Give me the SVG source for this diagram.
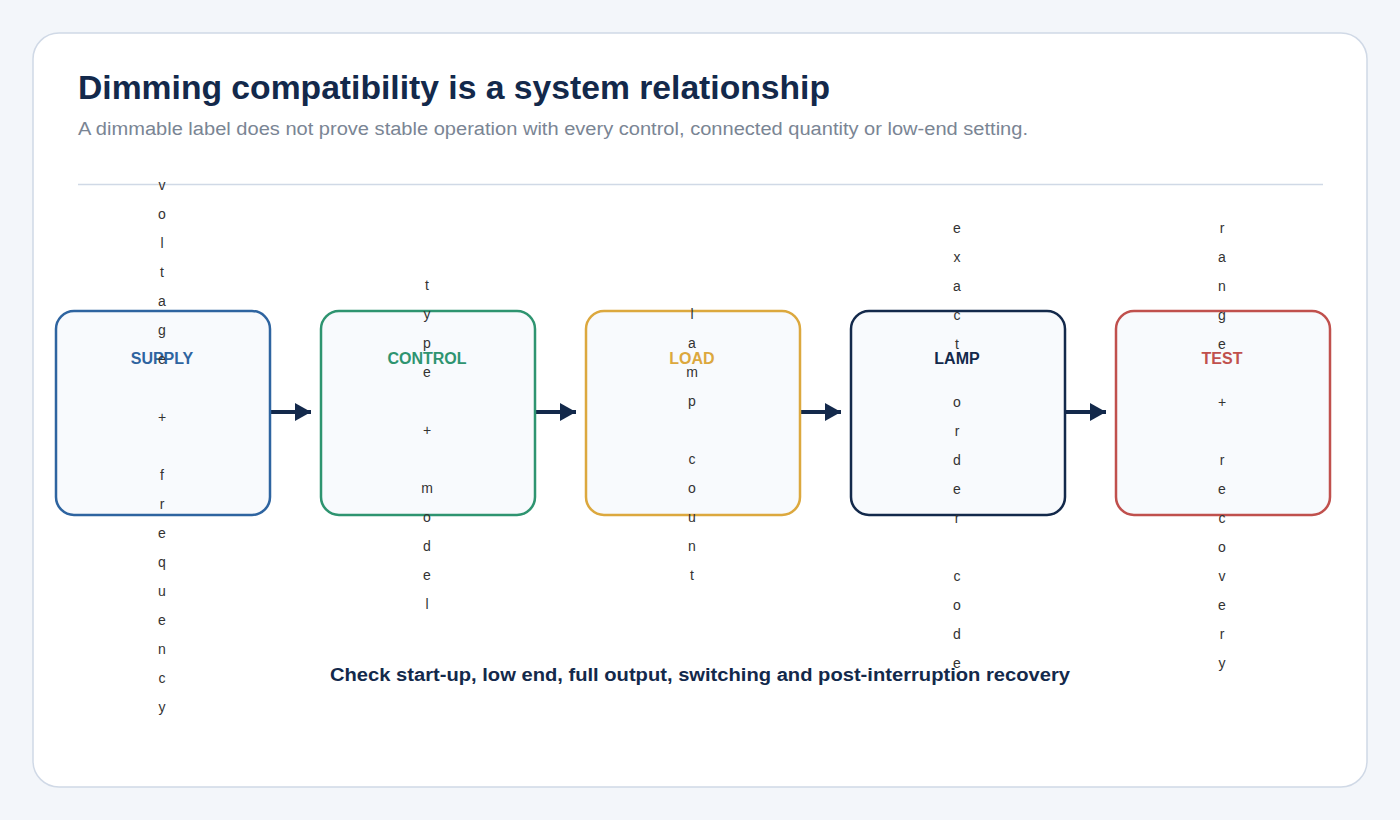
<svg xmlns="http://www.w3.org/2000/svg" width="1400" height="820" viewBox="0 0 1400 820">
<style>
text{font-family:"Liberation Sans",Arial,sans-serif}
.box{fill:#f8fafd;stroke-width:2.5}
.t{font-size:16px;font-weight:bold;text-anchor:middle}
.v{font-size:14px;fill:#333;text-anchor:middle}
.c{stroke:#13294b;stroke-width:4;fill:none;marker-end:url(#a)}
</style>
<defs><marker id="a" markerUnits="userSpaceOnUse" markerWidth="16" markerHeight="18" refX="16" refY="9" orient="auto"><path d="M0,0L16,9L0,18z" fill="#13294b"/></marker></defs>
<rect width="1400" height="820" fill="#f3f6fa"/>
<rect x="33" y="33" width="1334" height="754" rx="26" fill="#fff" stroke="#d0d9e6" stroke-width="1.5"/>
<text x="78" y="99" font-size="33" font-weight="bold" fill="#13294b" textLength="752" lengthAdjust="spacingAndGlyphs">Dimming compatibility is a system relationship</text>
<text x="78" y="135" font-size="18" fill="#7a8594" textLength="950" lengthAdjust="spacingAndGlyphs">A dimmable label does not prove stable operation with every control, connected quantity or low-end setting.</text>
<line x1="78" y1="184.5" x2="1323" y2="184.5" stroke="#d0d9e6" stroke-width="1.5"/>
<g id="connectors">
<line class="c" x1="270" y1="412" x2="311" y2="412"/>
<line class="c" x1="535" y1="412" x2="576" y2="412"/>
<line class="c" x1="800" y1="412" x2="841" y2="412"/>
<line class="c" x1="1065" y1="412" x2="1106" y2="412"/>
</g>
<g id="supply"><rect class="box" x="56" y="311" width="214" height="204" rx="18" stroke="#2e64a0"/><text class="t" x="162" y="364" fill="#2e64a0">SUPPLY</text>
<text class="v" x="162" y="190"><tspan x="162">v</tspan><tspan x="162" dy="29">o</tspan><tspan x="162" dy="29">l</tspan><tspan x="162" dy="29">t</tspan><tspan x="162" dy="29">a</tspan><tspan x="162" dy="29">g</tspan><tspan x="162" dy="29">e</tspan><tspan x="162" dy="58">+</tspan><tspan x="162" dy="58">f</tspan><tspan x="162" dy="29">r</tspan><tspan x="162" dy="29">e</tspan><tspan x="162" dy="29">q</tspan><tspan x="162" dy="29">u</tspan><tspan x="162" dy="29">e</tspan><tspan x="162" dy="29">n</tspan><tspan x="162" dy="29">c</tspan><tspan x="162" dy="29">y</tspan></text></g>
<g id="control"><rect class="box" x="321" y="311" width="214" height="204" rx="18" stroke="#2e9470"/><text class="t" x="427" y="364" fill="#2e9470">CONTROL</text>
<text class="v" x="427" y="290"><tspan x="427">t</tspan><tspan x="427" dy="29">y</tspan><tspan x="427" dy="29">p</tspan><tspan x="427" dy="29">e</tspan><tspan x="427" dy="58">+</tspan><tspan x="427" dy="58">m</tspan><tspan x="427" dy="29">o</tspan><tspan x="427" dy="29">d</tspan><tspan x="427" dy="29">e</tspan><tspan x="427" dy="29">l</tspan></text></g>
<g id="load"><rect class="box" x="586" y="311" width="214" height="204" rx="18" stroke="#dca83e"/><text class="t" x="692" y="364" fill="#dca83e">LOAD</text>
<text class="v" x="692" y="319"><tspan x="692">l</tspan><tspan x="692" dy="29">a</tspan><tspan x="692" dy="29">m</tspan><tspan x="692" dy="29">p</tspan><tspan x="692" dy="58">c</tspan><tspan x="692" dy="29">o</tspan><tspan x="692" dy="29">u</tspan><tspan x="692" dy="29">n</tspan><tspan x="692" dy="29">t</tspan></text></g>
<g id="lamp"><rect class="box" x="851" y="311" width="214" height="204" rx="18" stroke="#13294b"/><text class="t" x="957" y="364" fill="#13294b">LAMP</text>
<text class="v" x="957" y="233"><tspan x="957">e</tspan><tspan x="957" dy="29">x</tspan><tspan x="957" dy="29">a</tspan><tspan x="957" dy="29">c</tspan><tspan x="957" dy="29">t</tspan><tspan x="957" dy="58">o</tspan><tspan x="957" dy="29">r</tspan><tspan x="957" dy="29">d</tspan><tspan x="957" dy="29">e</tspan><tspan x="957" dy="29">r</tspan><tspan x="957" dy="58">c</tspan><tspan x="957" dy="29">o</tspan><tspan x="957" dy="29">d</tspan><tspan x="957" dy="29">e</tspan></text></g>
<g id="test"><rect class="box" x="1116" y="311" width="214" height="204" rx="18" stroke="#c0504d"/><text class="t" x="1222" y="364" fill="#c0504d">TEST</text>
<text class="v" x="1222" y="233"><tspan x="1222">r</tspan><tspan x="1222" dy="29">a</tspan><tspan x="1222" dy="29">n</tspan><tspan x="1222" dy="29">g</tspan><tspan x="1222" dy="29">e</tspan><tspan x="1222" dy="58">+</tspan><tspan x="1222" dy="58">r</tspan><tspan x="1222" dy="29">e</tspan><tspan x="1222" dy="29">c</tspan><tspan x="1222" dy="29">o</tspan><tspan x="1222" dy="29">v</tspan><tspan x="1222" dy="29">e</tspan><tspan x="1222" dy="29">r</tspan><tspan x="1222" dy="29">y</tspan></text></g>
<text x="700" y="681" font-size="18" font-weight="bold" fill="#13294b" text-anchor="middle" textLength="740" lengthAdjust="spacingAndGlyphs">Check start-up, low end, full output, switching and post-interruption recovery</text>
</svg>
